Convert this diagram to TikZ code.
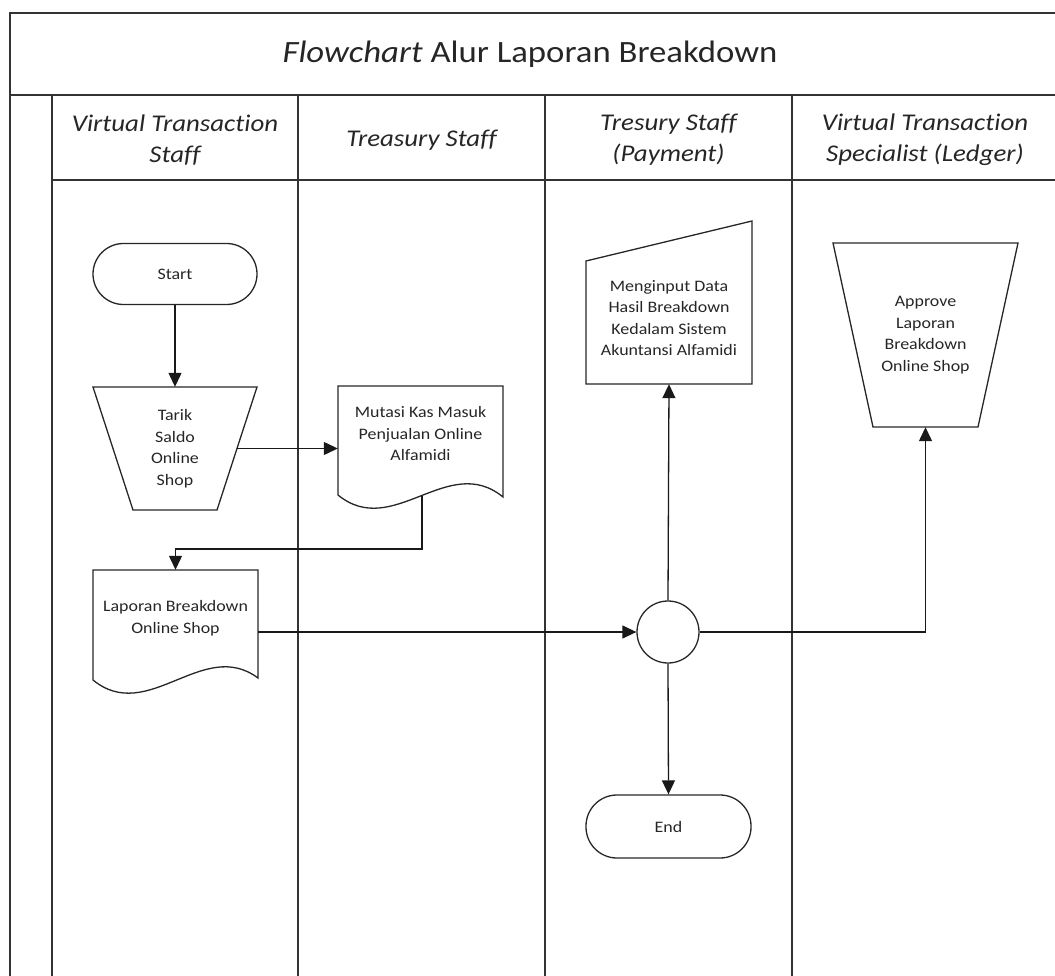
\documentclass[tikz,border=0pt]{standalone}
\usepackage{fontspec}
\setmainfont{Carlito}[FakeStretch=1.12, Ligatures=NoCommon]
\usetikzlibrary{arrows.meta,calc}
\tikzset{
  frame/.style={line width=1.8pt, draw=black!80},
  outline/.style={line width=1.3pt, draw=black!85},
  box/.style={inner sep=0pt, align=center, text=black!85, font=\fontsize{16}{21.5}\selectfont},
  arr/.style={line width=1.3pt, draw=black!90, -{Triangle[length=14pt,width=13pt]}},
  lanehead/.style={align=center, text=black!85, font=\fontsize{24}{31}\selectfont\itshape},
}
\begin{document}
\begin{tikzpicture}[x=1pt,y=-1pt]
\useasboundingbox (0,0) rectangle (1055,976);
\clip (0,0) rectangle (1055,976);
% frame
\draw[frame] (10,13) rectangle (1058,995);
\draw[frame] (10,95) -- (1058,95);
\draw[frame] (52,180) -- (1058,180);
\foreach \x in {52,298,545,792} \draw[frame] (\x,95) -- (\x,995);
% title
\node[text=black!85, font=\fontsize{31}{37}\selectfont] (title) at (530,54) {\textit{Flowchart} Alur Laporan Breakdown};
% lane headers
\node[lanehead] (h1) at (175,140) {Virtual Transaction\\Staff};
\node[lanehead] (h2) at (421.5,140) {Treasury Staff};
\node[lanehead] (h3) at (668.5,140) {Tresury Staff\\(Payment)};
\node[lanehead] (h4) at (925,140) {Virtual Transaction\\Specialist (Ledger)};

% Start
\node[box, outline, rounded corners=30.5pt, minimum width=164pt, minimum height=61pt] (start) at (175,274) {Start};
% Tarik saldo (manual operation)
\node[box, minimum width=164pt, minimum height=123pt] (tarik) at (175,448.5) {Tarik\\Saldo\\Online\\Shop};
\draw[outline] (93,387) -- (257,387) -- (217,510) -- (133,510) -- cycle;
% Mutasi (document)
\node[box, minimum width=165pt, minimum height=96pt] (mutasi) at (420.5,434) {Mutasi Kas Masuk\\Penjualan Online\\Alfamidi};
\draw[outline] (338,386) -- (503,386) -- (503,497) .. controls (448,452) and (393,540) .. (338,495) -- cycle;
\coordinate (mutasiout) at (422,496);
% Laporan (document)
\node[box, minimum width=165pt, minimum height=96pt] (laporan) at (175.5,618) {Laporan Breakdown\\Online Shop};
\draw[outline] (93,570) -- (258,570) -- (258,678) .. controls (203,637) and (148,725) .. (93,680) -- cycle;
% Menginput (manual input)
\node[box, minimum width=166pt, minimum height=132pt] (input) at (669,318) {Menginput Data\\Hasil Breakdown\\Kedalam Sistem\\Akuntansi Alfamidi};
\draw[outline] (586,261) -- (752,221) -- (752,384) -- (586,384) -- cycle;
% Approve (manual operation)
\node[box, minimum width=185pt, minimum height=184pt] (approve) at (925.5,335) {Approve\\Laporan\\Breakdown\\Online Shop};
\draw[outline] (833,243) -- (1018,243) -- (978,427) -- (873,427) -- cycle;
% merge circle
\node[box, outline, circle, minimum size=62pt] (merge) at (668,632) {};
% End
\node[box, outline, rounded corners=31pt, minimum width=165pt, minimum height=63pt] (stop) at (668.5,826.5) {End};

% connectors
\draw[arr] (start.south) -- (tarik.north);
\draw[arr] ($(tarik.east)+(-20,0)$) -- (mutasi.west |- tarik.east);
\draw[arr] (mutasiout) -- ++(0,53) -| (laporan.north);
\draw[arr] (laporan.east |- merge.west) -- (merge.west);
\draw[arr] (merge.north) -- (input.south);
\draw[arr] (merge.east) -| (approve.south);
\draw[arr] (merge.south) -- (stop.north);
\end{tikzpicture}
\end{document}
